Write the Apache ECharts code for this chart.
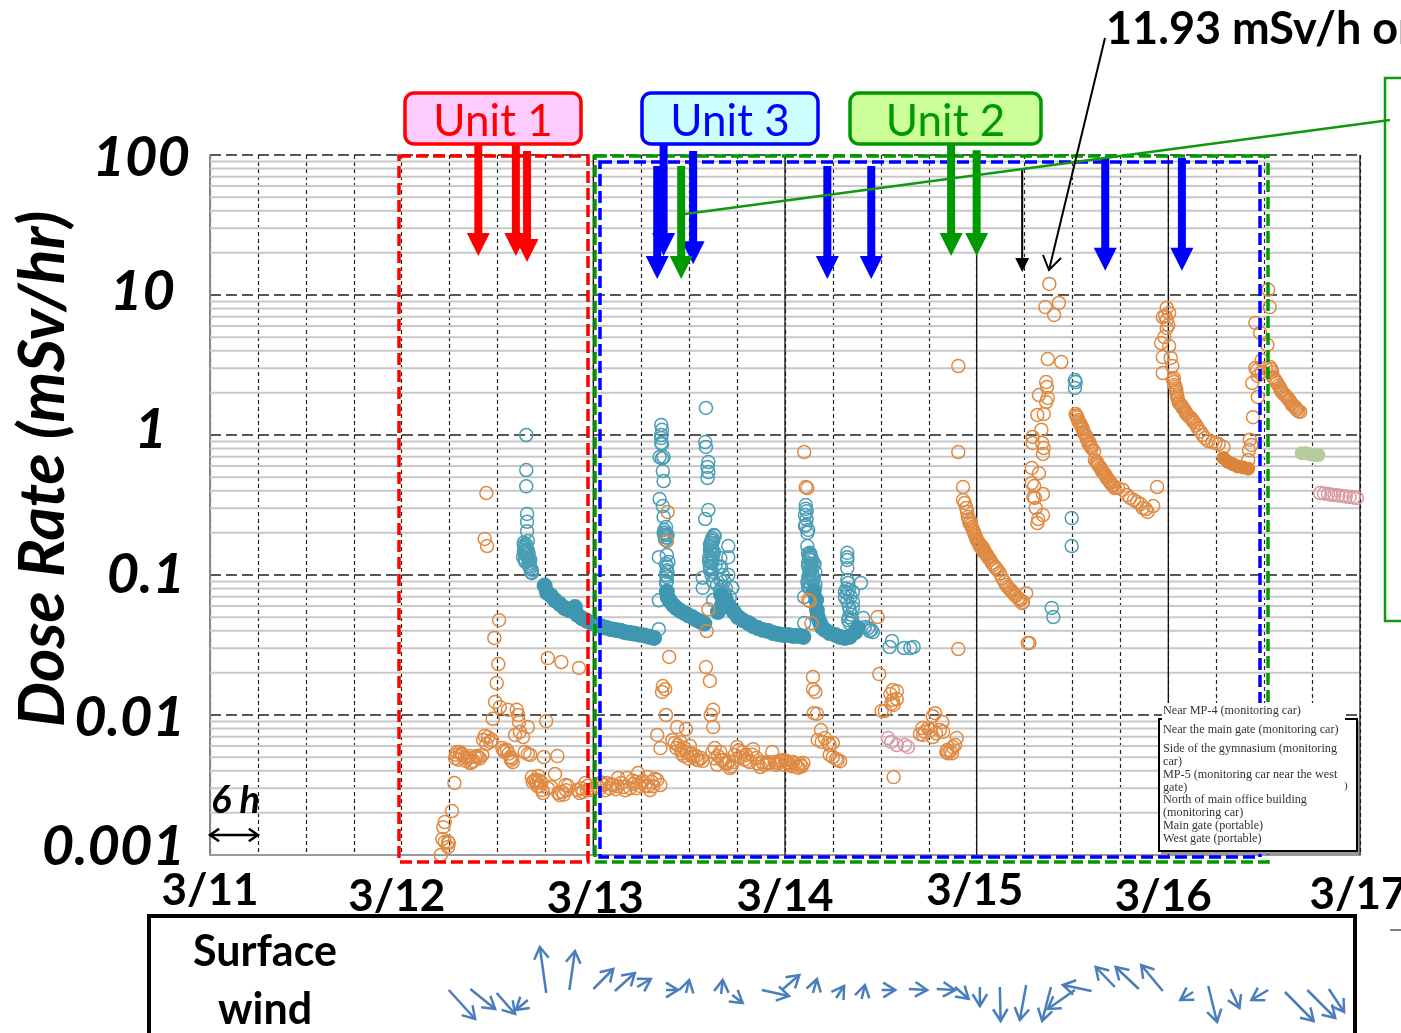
<!DOCTYPE html>
<html><head><meta charset="utf-8">
<style>html,body{margin:0;padding:0;background:#fff;overflow:hidden}#c{width:1401px;height:1033px}</style>
<script src="https://cdn.jsdelivr.net/npm/echarts@6/dist/echarts.min.js"></script>
</head><body><div id="c"></div>
<script>
// hours since 3/11 00:00, dose rate in mSv/h
const dayLabels = ['3/11','3/12','3/13','3/14','3/15','3/16','3/17'];
const doseLabels = ['0.001','0.01','0.1','1','10','100'];
const minorGrid = [0.002,0.003,0.004,0.005,0.006,0.007,0.008,0.009,0.02,0.03,0.04,0.05,0.06,0.07,0.08,0.09,0.2,0.3,0.4,0.5,0.6,0.7,0.8,0.9,2,3,4,5,6,7,8,9,20,30,40,50,60,70,80,90];
const solidDays = [48,72,96,120,144];

const tealRings = [[39.6,1.0],[39.6,.562],[39.6,.43],[39.7,.273],[39.7,.24],[39.7,.205],[39.8,.175],[39.3,.163],[39.4,.156],[39.2,.134],[39.7,.146],[39.4,.128],[40.1,.128],[39.8,.134],[39.9,.118],[40.3,.109],[40.3,.103],[39.5,.15],[39.9,.142],[39.3,.17],[39.6,.14],[40,.122],
[39.5,.16],[39.6,.152],[39.8,.15],[39.4,.145],[39.7,.135],[39.9,.13],[39.5,.124],[40,.115],[40.1,.112],[39.6,.165],[39.3,.145],[40.2,.105],
[56.5,1.18],[56.6,1.09],[56.5,1.0],[56.5,.95],[56.5,.877],[56.6,.86],[56.3,.696],[56.8,.696],[56.6,.68],[56.7,.553],[56.8,.469],[56.3,.349],[56.7,.311],[56.8,.26],[57.1,.22],[57.1,.193],[56.9,.193],[57.3,.193],[56.8,.2],[57.2,.185],[57.2,.139],[56.2,.134],[57.4,.124],[57.2,.108],[57.2,.0967],[57.1,.0877],[56.2,.066],[56.2,.041],
[56.9,.21],[57,.2],[57.2,.175],[57,.178],[57.1,.185],[57.1,.12],[57.2,.115],[57.3,.105],[57.2,.09],[57.1,.1],
[62.1,1.56],[62,.891],[62.1,.821],[62.4,.641],[62.3,.591],[62.4,.544],[62.3,.493],[62.4,.291],[62,.251],
[62.9,.184],[62.7,.169],[62.6,.151],[62.5,.134],[62.9,.122],[62.6,.109],[61.7,.0955],[61.7,.081],[63,.0663],[64.9,.161],[64.9,.134],[63.9,.132],[64,.114],[64.9,.1],[63.9,.0921],[64.1,.082],[65.4,.081],[65.1,.0696],[64.2,.0696],[64.7,.0631],[63.1,.193],[63,.176],[62.7,.155],[63.1,.146],[62.9,.132],[62.5,.124],[63.3,.118],[62.9,.105],[63.2,.19],[62.8,.16],[63,.14],[62.7,.115],
[62.8,.178],[62.9,.17],[62.6,.165],[62.7,.143],[62.9,.148],[62.6,.128],[62.8,.125],[62.6,.113],[62.8,.1],[63,.09],[63.5,.085],[63.9,.078],[64,.072],[64.4,.075],[64.6,.08],[64.4,.09],[64.2,.1],[63.8,.115],[63.9,.073],[64.5,.071],
[74.6,.316],[74.6,.297],[74.5,.268],[74.6,.228],[74.5,.224],[74.8,.2],[74.8,.161],[75.1,.144],[75.3,.132],[74.9,.122],[75.4,.112],[75.1,.103],[75.6,.0955],[74.8,.0891],[74.9,.082],[74.4,.0696],[74.4,.0454],[75,.137],[75.4,.128],[75.6,.118],[75.1,.108],[74.9,.0955],[75.4,.1],[75.8,.105],[75.8,.0855],[74.7,.285],[74.7,.25],[74.9,.21],
[74.9,.142],[75.2,.14],[75,.13],[75.3,.12],[74.9,.115],[75.2,.115],[75,.1],[75.3,.095],[75,.09],[75.2,.086],[75.5,.09],[75.7,.08],[75.1,.08],[75.7,.12],[75.2,.135],
[79.8,.144],[79.8,.134],[79.8,.128],[79.8,.112],[79.8,.0921],[79.9,.0877],[81.5,.0877],[79.5,.0758],[79.8,.0741],[80.5,.0758],[79.5,.0696],[80.5,.0642],[80.1,.0562],[80.5,.0582],[79.9,.0476],[81.8,.0492],[82,.0425],[82.4,.0418],[82.6,.0398],[83,.0391],[82.8,.0405],
[79.7,.08],[80,.078],[80.2,.07],[79.8,.065],[80,.06],[80.3,.052],[80,.05],[80.4,.048],[80.1,.045],
[85.4,.0338],[85.1,.0306],[86.9,.0301],[87.7,.0301],[88.1,.0306],
[108.3,2.47],[108.4,2.39],[108.3,2.17],[107.9,.255],[107.9,.161],[105.4,.0582],[105.6,.0501]];

const tealSolid = [[41.9,.084],[42.2,.075],[42.7,.071],[43.2,.066],[43.8,.062],[44.4,.058],[45,.056],[45.7,.059],[46,.052],[46.6,.049],[47.2,.047],[47.8,.0455],[48.4,.044],[49,.043],[49.6,.042],[50.2,.041],[50.8,.0405],[51.4,.04],[52,.039],[52.6,.0385],[53.2,.038],[53.8,.0375],[54.4,.037],[55,.0362],[55.6,.0355],
[57.2,.076],[57.3,.0696],[57.6,.065],[58,.061],[58.4,.058],[58.9,.0555],[59.4,.0535],[59.9,.0515],[60.4,.05],[60.9,.048],[61.4,.0465],[61.9,.045],
[63.6,.0544],[64.1,.061],[64.1,.0708],[64.6,.0663],[65.1,.059],[65.6,.0544],[66.1,.0501],[66.7,.0476],[67.4,.0454],[68,.0432],[68.6,.0418],[69.2,.0405],[69.9,.0398],[70.5,.0385],[71.1,.0379],[71.7,.0373],[72.4,.0373],[73,.0367],[73.6,.0367],[74.3,.0361],
[75.6,.0759],[75.9,.0663],[76,.0562],[76.1,.0501],[76.4,.0454],[76.6,.0425],[77,.0405],[77.6,.0385],[78.3,.0373],[78.9,.0361],[79.5,.0355],[80.1,.0361],[80.8,.0391],[81.1,.0418]];

const orangeRings = [[28.9,.001],[29.1,.0013],[29.4,.00124],[29.8,.00124],[29.9,.00122],[29.8,.00114],[29.2,.00158],[29.4,.00172],[30.3,.00206],[30.6,.00327],
[30.7,.00493],[30.9,.00544],[31.3,.00544],[31.6,.00518],[31.9,.00501],[32.3,.00493],[32.8,.00461],[32.6,.00454],[33.2,.00501],[33.6,.00501],[34.1,.00518],[34.2,.00663],[34.8,.00696],[35.1,.00642],[35.3,.00663],[35.4,.0094],[35.7,.0124],[35.9,.0169],[36.1,.0231],[36.2,.0476],[35.6,.0355],[36.3,.0114],[37.3,.0109],[38.4,.0109],[38.6,.01],[38.7,.00891],[39.8,.0082],[38.8,.00758],[38.2,.0072],[39.2,.00696],[36.6,.0058],[36.9,.00544],[37.2,.00562],[37.6,.00501],[37.9,.00461],[37.7,.00476],[39.4,.00544],[39.8,.00526],[40.1,.00518],[42.1,.00905],[41.8,.00501],[43.5,.00509],
[30.8,.0052],[31.1,.0048],[31.5,.0053],[32,.0047],[32.5,.0051],[33,.0047],[33.4,.0051],[33.8,.0049],[34.4,.0071],[34.6,.0062],[36.8,.0056],[37.4,.0053],[37.8,.0049],[40.6,.0034],[41,.0031],[41.2,.0034],[41.5,.0033],[44.3,.0027],[44.6,.0029],[47.2,.0029],[46.5,.003],
[40.3,.0036],[41.1,.00367],[40.4,.00333],[40.8,.00343],[40.9,.00327],[41.3,.0031],[41.6,.00291],[41.7,.00277],[43.2,.00379],[42.3,.003],[42.7,.00306],[43.8,.00268],[43.6,.00277],[44.1,.00282],[44.5,.00316],[44.8,.00312],[46,.00291],[46.3,.00277],[46.7,.00282],[47,.00327],[47.3,.00312],[47.6,.00291],
[42.3,.0255],[44,.0239],[46.2,.0217],[34.6,.385],[34.4,.181],[34.7,.161],
[48,.003],[48.5,.00312],[48.8,.003],[49.3,.00316],[49.7,.00327],[50.1,.003],[50.5,.00316],[50.8,.00295],[51.1,.00355],[51.5,.00327],[51.8,.00306],[52.2,.00355],[52.6,.003],[53,.00321],[53.3,.00333],[53.6,.00385],[53.8,.00312],[54.2,.00338],[54.5,.00312],[54.8,.0036],[55.1,.00291],[55.3,.00333],[55.7,.0035],[56,.00343],[56.4,.00316],[49,.0033],[49.5,.0029],[50.3,.0032],[51,.0031],[52,.0029],[52.9,.0034],[53.4,.003],[54,.0033],[54.9,.0031],[55.5,.0031],
[57.5,.026],[56.7,.0161],[56.6,.0146],[57,.0153],[57.1,.01],[56,.0072],[56.4,.0058],[58.5,.0082],[59.6,.00794],[57.3,.282],[57.2,.175],[62.4,.0569],[62.2,.0398],
[57.9,.00663],[58.2,.00631],[58.6,.0061],[58.4,.0058],[59,.00562],[59.4,.0058],[59.1,.0053],[59.7,.00544],[60.1,.00601],[60.1,.00522],[60.5,.00501],[60.9,.00509],[61.2,.00476],[61.5,.00493],
[62.1,.022],[62.6,.0175],[63,.0109],[62.7,.01],[63,.0082],[63.2,.0058],[62.9,.00544],[63.9,.00544],[63.6,.0051],[64.1,.00476],[64.5,.00454],[63.5,.00441],[65.1,.00418],[65.5,.00461],[66,.0059],[65.7,.00518],[66.4,.00501],[66.7,.00544],[67.1,.00518],[67.6,.00461],[68,.0057],[68.4,.00493],[68.9,.00425],[69.2,.00461],[69.7,.00447],[70.1,.00454],[70.4,.00544],[70.7,.00461],[71.1,.00454],[71.6,.00476],[72,.00476],[72.4,.00454],[72.6,.00441],[73,.00461],[73.5,.00425],[73.9,.00447],[74.3,.00454],
[60.3,.0053],[61,.00478],[61.7,.0047],[64.3,.0048],[64.8,.0045],[65.3,.0043],[66.2,.0056],[66.9,.0048],[67.3,.0047],[67.9,.0052],[68.6,.0045],[69.4,.0044],[69.9,.0046],[70.9,.0044],[71.3,.0047],[71.9,.0044],[72.2,.0046],[72.9,.0043],[73.3,.0045],[73.7,.0042],[74.1,.0043],[65,.0047],[63.2,.0049],[58.9,.0064],[59.3,.0051],[59.9,.0049],
[74.4,.756],[74.6,.425],[74.8,.418],[74.9,.0663],[75.1,.065],[75.3,.0454],[75.5,.0187],[75.5,.0153],[75.8,.0146],[76,.0102],[75.6,.0103],[76.5,.0078],[76.1,.00663],[77,.00685],[76.6,.00642],[77.4,.00631],[77.6,.0061],[78,.00631],[77.6,.00518],[78,.00501],[78.4,.00485],[78.6,.00476],[78.9,.00468],
[83.6,.0501],[83.8,.0196],[85.5,.0151],[86,.0148],[85.2,.0141],[85.5,.0128],[86,.013],[85.6,.0118],[85.3,.012],[84.1,.0107],[84.5,.0107],[85.6,.0036],
[89.2,.00807],[88.9,.0073],[89.5,.00758],[89.3,.0072],[89.9,.00807],[90.2,.0078],[90.5,.00696],[90.8,.0103],[90.5,.0098],[90.9,.0074],[91.4,.0078],[91.7,.00891],[91.8,.00758],[92.2,.00544],[92.4,.00532],[92.7,.00554],[92.3,.00562],[93,.0059],[93.3,.0061],[92.9,.00532],[93.5,.00685],[93.7,.0296],[93.7,3.11],[93.7,.756],[94.3,.425],
[94.3,.343],[94.5,.327],[94.7,.301],[94.8,.282],[94.9,.26],[95.2,.243],[95.3,.228],[95.5,.213],[95.7,.2],[95.9,.187],[96.2,.172],[96.5,.164],[96.8,.156],[97,.148],[97.3,.139],[97.5,.132],[97.9,.122],[98.3,.114],[98.6,.109],[98.9,.103],[99.2,.095],[99.5,.0891],[99.9,.082],[100.3,.078],[100.6,.0741],[100.9,.0708],[101.2,.0685],[101.5,.0663],[101.8,.0642],[102.2,.0741],[102.4,.0327],[102.6,.0327],
[95,.25],[95.1,.235],[95.4,.22],[95.6,.207],[95.8,.193],[96,.18],[96.1,.175],[96.3,.168],[96.6,.158],[96.7,.152],[96.9,.146],[97.1,.143],[97.4,.135],[97.7,.128],[98.1,.118],[98.4,.112],[96.4,.16],[96.8,.15],[97.2,.14],[99.7,.085],[100.1,.08],[100.4,.076],[100.8,.072],[101.3,.067],[101.7,.063],
[105.1,12],[104.6,8.2],[106.3,8.77],[105.7,7.2],[104.9,3.49],[106.6,3.32],[104.7,2.39],[104.8,2.2],[103.8,1.93],[104.9,1.84],[104.7,1.72],[104.4,1.41],[103.6,1.39],[104.1,1.09],[103,.968],[103,.877],[104.2,.877],[104.4,.807],[104.3,.732],[102.9,.582],[103.8,.533],[102.9,.454],[103.2,.432],[104.3,.379],[103.1,.36],[103.3,.355],[103.4,.301],[104.3,.268],[103.7,.251],[103.6,.235],
[108.4,1.41],[108.6,1.34],[108.7,1.28],[108.9,1.22],[109.1,1.16],[109.3,1.1],[109.4,1.05],[109.7,.984],[109.8,.936],[110.1,.891],[110.2,.848],[110.4,.807],[110.7,.768],
[110.8,.663],[111.1,.631],[111.3,.601],[111.6,.571],[111.8,.544],[112.1,.518],[112.3,.493],[112.6,.469],[112.8,.454],[113.1,.432],[113.3,.418],[113.7,.418],[114.3,.405],[114.8,.373],[115.2,.355],[115.7,.343],[116.1,.332],[116.5,.321],[116.8,.301],[117.2,.296],[117.4,.282],[118.1,.311],[118.6,.425],
[108.5,1.37],[108.8,1.25],[109,1.19],[109.2,1.13],[109.5,1.02],[109.9,.915],[110,.87],[110.3,.825],[111,.645],[111.2,.615],[111.5,.585],[111.7,.555],[112,.53],[112.2,.505],[112.5,.48],[112.7,.46],[113,.44],
[119.8,8.08],[120.1,7.45],[119.3,6.96],[119.6,7.07],[119.8,6.63],[120,6.1],[119.8,5.8],[119.5,5.01],[119.1,4.54],[120.1,4.32],[119.3,3.6],[120.3,3.55],[120.5,3.11],[119.3,2.77],[120.7,2.55],[120.7,2.39],[120.8,2.28],[121,2.13],[121,2.03],[121.1,1.93],[121.2,1.81],[121.3,1.72],[121.6,1.64],[121.8,1.56],[122.1,1.48],[122.3,1.41],[122.7,1.34],[123,1.28],[123.3,1.22],[123.7,1.12],[124.3,1],[125,.906],[125.5,.891],[125.9,.877],[126.3,.862],[126.9,.821],
[120.6,2.47],[120.9,2.2],[121.1,1.87],[121.4,1.68],[121.7,1.6],[122,1.52],[122.2,1.44],[122.5,1.37],[122.9,1.31],[123.1,1.25],[123.5,1.17],[124,1.06],[124.6,.95],
[130,.663],[130.1,.78],[130.2,.925],[130.4,.85],[130.6,1.34],[131.2,1.87],[130.5,2.35],[131.1,2.91],[131.7,3.43],[130.9,6.31],[131.5,5.36],[132.5,10.9],[132.7,8.2],[132.4,4.4],[130.9,3.01],[131.2,2.64],[131.7,2.82],[132.2,3.01],
[132.7,3.06],[133,2.82],[133.1,2.6],[133.4,2.47],[133.6,2.35],[134,2.17],[134.2,2.03],[134.6,1.93],[134.9,1.84],[135.2,1.75],[135.5,1.64],[135.9,1.58],[136.1,1.51],[136.5,1.46],
[132.9,2.95],[133.2,2.53],[133.5,2.41],[133.8,2.26],[134.1,2.1],[134.4,1.98],[134.8,1.88],[135.1,1.79],[135.4,1.69],[135.7,1.61],[136,1.54],[136.3,1.48]];

const orangeSolid = [[126.9,.685],[127.5,.642],[128.1,.617],[128.7,.596],[129.4,.585],[130,.575]];
const pinkRings = [[84.9,.00685],[85.3,.00642],[86,.0061],[87,.0061],[87.4,.0059],
[139,.385],[139.5,.382],[140,.379],[140.4,.375],[140.8,.372],[141.3,.37],[141.8,.367],[142.2,.364],[142.7,.361],[143.2,.358],[143.6,.355]];
const sageSolid = [[136.7,.74],[137.2,.74],[137.7,.73],[138.2,.72],[138.8,.72]];

// release arrows: hour, dose at tail, dose at tip
const redArrows = [[33.6,118,19],[38.3,118,19],[39.7,107,17.2]];
const blueArrows = [[56,83.5,13],[56.8,118,19],[60.5,107,16.6],[77.3,83.5,13],[82.8,83.5,13],[112.1,95,14.9],[121.7,95,14.9]];
const greenArrows = [[59,83.5,13],[92.8,118,19],[96,108,19]];
const blackArrows = [[101.7,78,14.6]];

// wind arrows: tail hour, tail level, tip hour, tip level
const windArrows = [[29.9,60,33.2,89],[32.6,59,35.7,79],[35.9,63,38.2,84],[39.8,70,38.3,80],[42.1,63,41.3,17],[45,60,45.7,21],[48,59,50.5,39],[50.7,61,53.2,43],[53.5,57,55.2,49],[57.1,60,58.6,60],[59.6,63,60,50],[64,64,64.2,50],[65.4,65,66.7,73],[69.1,60,72.5,66],[71.6,60,73.8,45],[75.5,63,76,49],[78.4,68,79.4,56],[81.6,69,82,55],[84.1,60,85.8,60],[87.5,59,89.8,60],[91,59,93.3,60],[93.3,57,95,69],[96.4,57,96.4,76],[98.9,57,99,91],[102.2,55,101.4,90],[105.3,57,104.2,91],[108.3,60,104.9,79],[110.4,61,106.8,55],[113.3,57,110.9,37],[116.3,59,113.4,37],[119.3,61,116.6,35],[123.1,62,121.5,70],[125,56,126.1,92],[127.8,59,128.9,78],[132.5,60,130.4,70],[134.6,62,138.2,91],[137.4,60,140.9,88],[140.1,59,142,82]];
const scaleArrow = [[0,.00139,6,.00139]];
const windLabel = ['Surface','wind'];
const unitLabels = ['Unit 1','Unit 3','Unit 2'];
const calloutText = '11.93 mSv/h or';
const scaleText = '6 h';
const axisTitle = 'Dose Rate (mSv/hr)';
const legendText = [['Near MP-4 (monitoring car)',711],['Near the main gate (monitoring car)',730],['Side of the gymnasium (monitoring',749],['car)',762],['MP-5 (monitoring car near the west',775],['gate)',788],['North of main office building',800],['(monitoring car)',813],['Main gate (portable)',826],['West gate (portable)',839]];

const FONT = 'Lato';
const ring = (color)=>({color:'rgba(0,0,0,0)',borderColor:color,borderWidth:1.5,opacity:1});
const solid = (color)=>({color:color,opacity:1});
function scatter(name,data,style,size){return {name,type:'scatter',data,symbol:'circle',symbolSize:size,itemStyle:style,silent:true,animation:false,z:5,clip:false,xAxisIndex:0,yAxisIndex:0};}

function arrowSeries(name,data,color,shaft,head,headLen,z){
  return {name,type:'custom',data,silent:true,animation:false,z:z||20,clip:false,xAxisIndex:0,yAxisIndex:0,
    encode:{x:0,y:1},
    renderItem(p,api){
      const t=api.coord([api.value(0),api.value(1)]), b=api.coord([api.value(0),api.value(2)]);
      const x=t[0],s=shaft/2,h=head/2,n=b[1]-headLen;
      return {type:'polygon',shape:{points:[[x-s,t[1]],[x+s,t[1]],[x+s,n],[x+h,n],[x,b[1]],[x-h,n],[x-s,n]]},style:{fill:color}};
    }};
}
function headLines(a,b,len,ang){
  const th=Math.atan2(b[1]-a[1],b[0]-a[0]);
  return [[b[0]-len*Math.cos(th-ang),b[1]-len*Math.sin(th-ang)],[b[0],b[1]],[b[0]-len*Math.cos(th+ang),b[1]-len*Math.sin(th+ang)]];
}
const windSeries={name:'wind',type:'custom',data:windArrows,silent:true,animation:false,z:20,clip:false,xAxisIndex:1,yAxisIndex:1,encode:{x:0,y:1},
  renderItem(p,api){
    const a=api.coord([api.value(0),api.value(1)]),b=api.coord([api.value(2),api.value(3)]);
    const st={stroke:'#4A7EBB',lineWidth:2.5,fill:null};
    return {type:'group',children:[
      {type:'line',shape:{x1:a[0],y1:a[1],x2:b[0],y2:b[1]},style:st},
      {type:'polyline',shape:{points:headLines(a,b,14,0.55)},style:st}]};
  }};
const scaleSeries={name:'scale',type:'custom',data:scaleArrow,silent:true,animation:false,z:20,clip:false,xAxisIndex:0,yAxisIndex:0,encode:{x:0,y:1},
  renderItem(p,api){
    const a=api.coord([api.value(0),api.value(1)]),b=api.coord([api.value(2),api.value(3)]);
    const st={stroke:'#000',lineWidth:2.5,fill:null};
    return {type:'group',children:[
      {type:'line',shape:{x1:a[0],y1:a[1],x2:b[0],y2:b[1]},style:st},
      {type:'polyline',shape:{points:headLines(a,b,11,0.6)},style:st},
      {type:'polyline',shape:{points:headLines(b,a,11,0.6)},style:st}]};
  }};
const minorSeries={name:'minor',type:'custom',data:minorGrid.map(v=>[0,v]),silent:true,animation:false,z:1,xAxisIndex:0,yAxisIndex:0,encode:{x:0,y:1},
  renderItem(p,api){
    const c=api.coord([0,api.value(1)]);
    return {type:'line',shape:{x1:p.coordSys.x,y1:c[1],x2:p.coordSys.x+p.coordSys.width,y2:c[1]},style:{stroke:'#c8c8c8',lineWidth:2}};
  }};
const daySeries={name:'days',type:'custom',data:solidDays.map(d=>[d,0.001]),silent:true,animation:false,z:2,xAxisIndex:0,yAxisIndex:0,encode:{x:0,y:1},
  renderItem(p,api){
    const c=api.coord([api.value(0),0.001]);
    return {type:'line',shape:{x1:c[0],y1:p.coordSys.y,x2:c[0],y2:p.coordSys.y+p.coordSys.height},style:{stroke:'#111',lineWidth:1.3}};
  }};

const dayRich={
  d0:{padding:[0,0,0,0]},d1:{padding:[6,10,0,0]},d2:{padding:[8,0,0,4]},d3:{padding:[6,0,0,0]},d4:{padding:[0,4,0,0]},d5:{padding:[6,10,0,0]},d6:{padding:[4,4,0,0]}
};
Object.values(dayRich).forEach(r=>{r.fontFamily=FONT;r.fontWeight='bold';r.fontSize=44;r.color='#000';});
const doseRich={
  k0:{padding:[0,25,16,0]},k1:{padding:[6,25,0,0]},k2:{padding:[0,25,0,0]},k3:{padding:[0,43,10,0]},k4:{padding:[0,35,6,0]},k5:{padding:[6,20,0,0]}
};
Object.values(doseRich).forEach(r=>{r.fontFamily=FONT;r.fontWeight='bold';r.fontStyle='italic';r.fontSize=56;r.color='#000';});

const rect=(l,t,w,h,color,z)=>({type:'rect',z,shape:{x:l,y:t,width:w,height:h},style:{fill:null,stroke:color,lineWidth:3.5,lineDash:[12,5]}});
const unitBox=(l,w,fill,stroke,txt)=>({type:'group',z:15,children:[
  {type:'rect',z:15,shape:{x:l,y:93,width:w,height:51,r:9},style:{fill,stroke,lineWidth:3.5}},
  {type:'text',z:16,style:{x:l+w/2,y:122,text:txt,align:'center',verticalAlign:'middle',fill:stroke,font:'44px '+FONT}}]});
const graphics=[
  rect(399,156,189,706,'#FF0000',10),
  rect(595,156,673,706,'#009900',10),
  rect(600,162,660,695,'#0000FF',11),
  unitBox(405,176,'#FFCCFF','#FF0000',unitLabels[0]),
  unitBox(642,176,'#CCFFFF','#0000FF',unitLabels[1]),
  unitBox(850,191,'#CCFF99','#009900',unitLabels[2]),
  {type:'line',z:25,shape:{x1:685,y1:214,x2:1390,y2:120},style:{stroke:'#119911',lineWidth:2.5}},
  {type:'rect',z:3,shape:{x:1385,y:78,width:60,height:543},style:{fill:null,stroke:'#119911',lineWidth:2.5}},
  {type:'line',z:25,shape:{x1:1105,y1:38,x2:1049,y2:270},style:{stroke:'#000',lineWidth:2}},
  {type:'polyline',z:25,shape:{points:[[1043,255],[1049,270],[1061,258]]},style:{stroke:'#000',lineWidth:2,fill:null}},
  {type:'text',z:25,style:{x:1106,y:29,text:calloutText,verticalAlign:'middle',fill:'#000',font:'bold 45px '+FONT}},
  {type:'text',z:25,style:{x:211,y:801,text:scaleText,verticalAlign:'middle',fill:'#000',font:'italic bold 38px '+FONT}},
  {type:'text',z:25,rotation:Math.PI/2,x:43,y:469,style:{x:0,y:0,text:axisTitle,align:'center',verticalAlign:'middle',fill:'#000',font:'italic bold 64px '+FONT}},
  // legend panel
  {type:'rect',z:30,shape:{x:1161,y:721,width:198,height:133},style:{fill:'#999'}},
  {type:'rect',z:31,shape:{x:1159,y:719,width:198,height:132},style:{fill:'#fff',stroke:'#000',lineWidth:2}},
  {type:'rect',z:32,shape:{x:1162,y:703,width:183,height:22},style:{fill:'#fff'}},
  ...legendText.map(([t,y])=>({type:'text',z:33,style:{x:1163,y,text:t,verticalAlign:'middle',fill:'#333',font:'12.2px "Liberation Serif"'}})),
  {type:'text',z:33,style:{x:1344,y:786,text:')',verticalAlign:'middle',fill:'#333',font:'11px "Liberation Serif"'}},
  // wind panel
  {type:'rect',z:15,shape:{x:149,y:916,width:1206,height:200},style:{fill:null,stroke:'#000',lineWidth:4}},
  {type:'text',z:16,style:{x:265,y:952,text:windLabel[0],align:'center',verticalAlign:'middle',fill:'#000',font:'bold 43px '+FONT}},
  {type:'text',z:16,style:{x:265,y:1010,text:windLabel[1],align:'center',verticalAlign:'middle',fill:'#000',font:'bold 43px '+FONT}},
  {type:'line',z:15,shape:{x1:1390,y1:930,x2:1401,y2:930},style:{stroke:'#555',lineWidth:1.5}}
];

const chart=echarts.init(document.getElementById('c'),null,{renderer:'canvas'});
chart.setOption({
  animation:false,backgroundColor:'#fff',
  grid:[{left:210,top:155,width:1150,height:700,containLabel:false,outerBoundsMode:'none'},{left:210,top:930,width:1150,height:103,outerBoundsMode:'none'}],
  xAxis:[{type:'value',gridIndex:0,min:0,max:144,interval:6,
      axisLine:{show:true,onZero:false,lineStyle:{color:'#999',width:2}},axisTick:{show:false},
      splitLine:{show:true,lineStyle:{color:'#222',width:1.2,type:[4,3]}},
      axisLabel:{show:true,margin:14,hideOverlap:false,showMinLabel:true,showMaxLabel:true,
        formatter:v=>{const i=v/24;return Number.isInteger(i)?`{d${i}|${dayLabels[i]}}`:'';},rich:dayRich}},
    {type:'value',gridIndex:1,min:0,max:144,interval:24,show:false}],
  yAxis:[{type:'log',gridIndex:0,logBase:10,min:0.001,max:100,
      axisLine:{show:true,lineStyle:{color:'#888',width:2}},axisTick:{show:false},
      minorTick:{show:false},minorSplitLine:{show:false},
      splitLine:{show:true,showMinLine:false,lineStyle:{color:'#222',width:1.6,type:[11,5]}},
      axisLabel:{show:true,margin:0,showMinLabel:true,showMaxLabel:true,
        formatter:v=>{const i=Math.round(Math.log10(v))+3;return `{k${i}|${doseLabels[i]}}`;},rich:doseRich}},
    {type:'value',gridIndex:1,min:0,max:103,inverse:true,show:false}],
  graphic:graphics,
  series:[minorSeries,daySeries,
    scatter('Teal rings',tealRings,ring('#4A9DB5'),13),
    scatter('Teal dense',tealSolid,solid('#3F96B0'),16),
    scatter('Orange rings',orangeRings,ring('#DF8A43'),13),
    scatter('Orange dense',orangeSolid,solid('#DC843A'),14),
    scatter('Pink rings',pinkRings,ring('#D89AA2'),13),
    scatter('Sage dense',sageSolid,solid('#B5CC9B'),14),
    arrowSeries('Unit 1',redArrows,'#FF0000',8,23,23),
    arrowSeries('Unit 3',blueArrows,'#0000FF',8,23,23),
    arrowSeries('Unit 2',greenArrows,'#009900',8,23,23,21),
    arrowSeries('Other',blackArrows,'#000',2,14,14),
    scaleSeries,windSeries]
});
</script></body></html>
